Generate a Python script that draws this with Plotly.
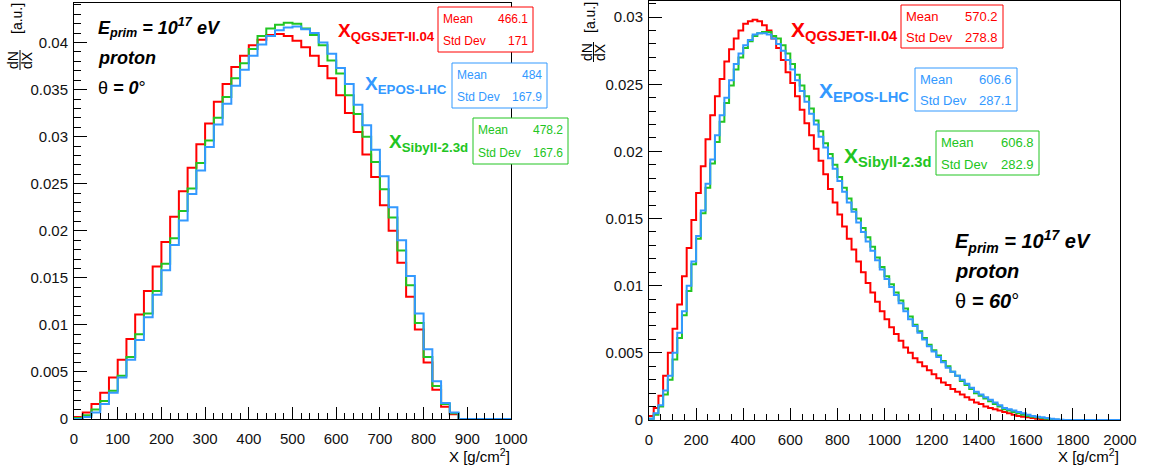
import numpy as np
import plotly.graph_objects as go

W, H = 1154, 466

# ---------------- data ----------------
models = ["QGSJET-II.04", "EPOS-LHC", "Sibyll-2.3d"]
bin_width = 20

left_qgsjet = [0.0002, 0.0007, 0.0016, 0.0028, 0.0044, 0.0063, 0.0085, 0.0111, 0.0136, 0.0162,
               0.0188, 0.0215, 0.0242, 0.0267, 0.0292, 0.0314, 0.0337, 0.0356, 0.0374, 0.0386,
               0.0397, 0.0403, 0.0408, 0.0409, 0.0407, 0.0402, 0.0395, 0.0386, 0.0375, 0.0362,
               0.0344, 0.0325, 0.0305, 0.0281, 0.0257, 0.0227, 0.0200, 0.0166, 0.0130, 0.0095,
               0.0060, 0.0031, 0.0013, 0.0005, 0, 0, 0, 0, 0, 0]
left_epos = [0.0000, 0.0002, 0.0007, 0.0016, 0.0028, 0.0044, 0.0063, 0.0084, 0.0108, 0.0132,
             0.0158, 0.0185, 0.0211, 0.0239, 0.0264, 0.0289, 0.0313, 0.0335, 0.0354, 0.0371,
             0.0386, 0.0398, 0.0407, 0.0413, 0.0416, 0.0417, 0.0414, 0.0410, 0.0400, 0.0388,
             0.0373, 0.0356, 0.0334, 0.0312, 0.0286, 0.0258, 0.0225, 0.0190, 0.0152, 0.0112,
             0.0074, 0.0040, 0.0017, 0.0007, 0, 0, 0, 0, 0, 0]
left_sibyll = [0.0001, 0.0004, 0.0010, 0.0019, 0.0030, 0.0046, 0.0066, 0.0090, 0.0112, 0.0136,
               0.0165, 0.0192, 0.0221, 0.0245, 0.0272, 0.0296, 0.0320, 0.0342, 0.0362, 0.0378,
               0.0393, 0.0407, 0.0415, 0.0419, 0.0421, 0.0420, 0.0415, 0.0408, 0.0397, 0.0381,
               0.0367, 0.0344, 0.0324, 0.0300, 0.0273, 0.0244, 0.0214, 0.0179, 0.0142, 0.0102,
               0.0066, 0.0035, 0.0016, 0.0006, 0, 0, 0, 0, 0, 0]

right_qgsjet = [0.0003, 0.0009, 0.0018, 0.0033, 0.0050, 0.0068, 0.0086, 0.0107, 0.0128, 0.0149,
                0.0169, 0.0189, 0.0209, 0.0227, 0.0241, 0.0254, 0.0267, 0.0276, 0.0284, 0.0290,
                0.0295, 0.0297, 0.0298, 0.0297, 0.0294, 0.0290, 0.0284, 0.0277, 0.0268, 0.0259,
                0.0251, 0.0241, 0.0231, 0.0221, 0.0212, 0.0202, 0.0193, 0.0183, 0.0172, 0.0162,
                0.0153, 0.0144, 0.0135, 0.0127, 0.0118, 0.0110, 0.0102, 0.0095, 0.0088, 0.0081,
                0.0075, 0.0069, 0.0064, 0.0059, 0.0054, 0.0050, 0.0046, 0.0043, 0.0040, 0.0037,
                0.0034, 0.0031, 0.0028, 0.0026, 0.0023, 0.0021, 0.0019, 0.0017, 0.0015, 0.0013,
                0.0012, 0.0010, 0.0009, 0.0008, 0.0007, 0.0006, 0.0005, 0.0004, 0.0003, 0.00025,
                0.0002, 0.00015, 0.0001, 0.00008, 0.00005, 0.00002, 0, 0, 0, 0,
                0, 0, 0, 0, 0, 0, 0, 0, 0, 0]
right_epos = [0.0001, 0.0005, 0.0011, 0.0022, 0.0033, 0.0050, 0.0065, 0.0081, 0.0100, 0.0118,
              0.0137, 0.0156, 0.0176, 0.0194, 0.0212, 0.0227, 0.0240, 0.0253, 0.0265, 0.0273,
              0.0279, 0.0283, 0.0287, 0.0288, 0.0288, 0.0287, 0.0284, 0.0280, 0.0275, 0.0268,
              0.0261, 0.0253, 0.0245, 0.0237, 0.0228, 0.0220, 0.0211, 0.0203, 0.0195, 0.0187,
              0.0178, 0.0170, 0.0162, 0.0155, 0.0147, 0.0140, 0.0133, 0.0126, 0.0119, 0.0112,
              0.0105, 0.0099, 0.0093, 0.0087, 0.0081, 0.0075, 0.0070, 0.0065, 0.0060, 0.0055,
              0.0051, 0.0047, 0.0043, 0.0039, 0.0036, 0.0033, 0.0030, 0.0027, 0.0024, 0.0021,
              0.0019, 0.0017, 0.0015, 0.0013, 0.0011, 0.0009, 0.0008, 0.0007, 0.0006, 0.0005,
              0.0004, 0.0003, 0.00025, 0.0002, 0.00015, 0.0001, 0.00005, 0.00002, 0, 0,
              0, 0, 0, 0, 0, 0, 0, 0, 0, 0]
right_sibyll = [0.0001, 0.0004, 0.0010, 0.0019, 0.0030, 0.0045, 0.0061, 0.0078, 0.0096, 0.0116,
                0.0135, 0.0154, 0.0173, 0.0191, 0.0207, 0.0222, 0.0236, 0.0249, 0.0261, 0.0270,
                0.0277, 0.0282, 0.0286, 0.0288, 0.0289, 0.0289, 0.0286, 0.0284, 0.0279, 0.0273,
                0.0265, 0.0257, 0.0249, 0.0241, 0.0232, 0.0223, 0.0215, 0.0206, 0.0198, 0.0190,
                0.0181, 0.0173, 0.0165, 0.0157, 0.0150, 0.0143, 0.0136, 0.0129, 0.0121, 0.0114,
                0.0107, 0.0101, 0.0095, 0.0089, 0.0083, 0.0077, 0.0071, 0.0066, 0.0061, 0.0056,
                0.0052, 0.0048, 0.0044, 0.0040, 0.0036, 0.0033, 0.0029, 0.0026, 0.0023, 0.0020,
                0.0018, 0.0016, 0.0014, 0.0012, 0.0010, 0.0008, 0.0007, 0.0006, 0.0005, 0.0004,
                0.0003, 0.00025, 0.0002, 0.00015, 0.0001, 0.00005, 0.00002, 0, 0, 0,
                0, 0, 0, 0, 0, 0, 0, 0, 0, 0]

left_means = [466.1, 484, 478.2]
left_stds = [171, 167.9, 167.6]
right_means = [570.2, 606.6, 606.8]
right_stds = [278.8, 287.1, 282.9]

# ---------------- styles ----------------
FONT = "Liberation Sans, Arial, sans-serif"
RED, BLUE, GREEN = "#ff0000", "#3399ff", "#22c522"
colors = [RED, BLUE, GREEN]


def px(x):
    return x / W


def py(y):
    return 1 - y / H


def step_xy(vals):
    edges = np.arange(len(vals) + 1) * bin_width
    return edges, list(vals) + [vals[-1]]


fig = go.Figure()
for vals, col in [(left_qgsjet, RED), (left_sibyll, GREEN), (left_epos, BLUE)]:
    ex, ey = step_xy(vals)
    fig.add_trace(go.Scatter(x=ex, y=ey, mode="lines", line=dict(color=col, width=2, shape="hv"),
                             xaxis="x", yaxis="y", showlegend=False))
for vals, col in [(right_qgsjet, RED), (right_sibyll, GREEN), (right_epos, BLUE)]:
    ex, ey = step_xy(vals)
    fig.add_trace(go.Scatter(x=ex, y=ey, mode="lines", line=dict(color=col, width=2, shape="hv"),
                             xaxis="x2", yaxis="y2", showlegend=False))

axis_common = dict(showline=True, linecolor="black", linewidth=1, mirror=True, showgrid=False,
                   zeroline=False, ticks="inside", tickcolor="black", tickwidth=1,
                   automargin=False,
                   tickfont=dict(family=FONT, size=15, color="#111"))

fig.update_layout(
    width=W, height=H, margin=dict(l=0, r=0, t=0, b=0, autoexpand=False),
    paper_bgcolor="white", plot_bgcolor="white", showlegend=False,
    xaxis=dict(domain=[px(74), px(511)], range=[0, 1000], dtick=100, tick0=0, ticklen=12,
               minor=dict(dtick=20, ticklen=6, ticks="inside", tickcolor="black"),
               anchor="y", ticklabelstandoff=6, **axis_common),
    yaxis=dict(domain=[py(419), py(3)], range=[0, 0.0442], dtick=0.005, tick0=0, ticklen=13,
               minor=dict(dtick=0.001, ticklen=7, ticks="inside", tickcolor="black"),
               anchor="x", ticklabelstandoff=2, **axis_common),
    xaxis2=dict(domain=[px(649), px(1120)], range=[0, 2000], dtick=200, tick0=0, ticklen=12,
                minor=dict(dtick=50, ticklen=6, ticks="inside", tickcolor="black"),
                anchor="y2", ticklabelstandoff=6, **axis_common),
    yaxis2=dict(domain=[py(420), py(1)], range=[0, 0.0312], dtick=0.005, tick0=0, ticklen=13,
                minor=dict(dtick=0.001, ticklen=7, ticks="inside", tickcolor="black"),
                anchor="x2", ticklabelstandoff=2, **axis_common),
)

anns = []
shapes = []


def text(x, y, t, size, color="black", xanchor="left", yanchor="middle", angle=0, family=FONT):
    anns.append(dict(x=px(x), y=py(y), xref="paper", yref="paper", text=t, showarrow=False,
                     xanchor=xanchor, yanchor=yanchor, textangle=angle,
                     font=dict(family=family, size=size, color=color)))


# axis titles
text(512, 455, "X [g/cm<sup>2</sup>]", 15, xanchor="right")
text(1121, 455, "X [g/cm<sup>2</sup>]", 15, xanchor="right")

# y titles (rotated fraction)
for (xa, ya, xn, xd, yf) in [(17, 19, 13, 27, 60), (590, 18, 587, 600, 52)]:
    text(xa, ya, "[a.u.]", 14, xanchor="center", angle=-90)
    text(xn, yf, "dN", 14, xanchor="center", angle=-90)
    text(xd, yf, "dX", 14, xanchor="center", angle=-90)
    xm = (xn + xd) / 2
    shapes.append(dict(type="line", xref="paper", yref="paper", x0=px(xm), x1=px(xm),
                       y0=py(yf - 10), y1=py(yf + 10), line=dict(color="black", width=1)))

# model labels
left_label_pos = [(336, 32), (363, 85), (387, 143)]
right_label_pos = [(789, 31), (817, 92), (842, 157)]
for i, m in enumerate(models):
    x, y = left_label_pos[i]
    text(x, y, "<b>X<sub>%s</sub></b>" % m, 19, colors[i])
    x, y = right_label_pos[i]
    text(x, y, "<b>X<sub>%s</sub></b>" % m, 21, colors[i])

# stat boxes
left_boxes = [(438, 7, 533, 52), (452, 63, 547, 108), (473, 118, 568, 164)]
right_boxes = [(901, 5, 1003, 48), (915, 68, 1017, 111), (936, 131, 1039, 175)]
for boxes, means, stds, fs in [(left_boxes, left_means, left_stds, 12), (right_boxes, right_means, right_stds, 13)]:
    for i, (x0, y0, x1, y1) in enumerate(boxes):
        shapes.append(dict(type="rect", xref="paper", yref="paper", x0=px(x0), x1=px(x1),
                           y0=py(y1), y1=py(y0), line=dict(color=colors[i], width=1),
                           fillcolor="white", layer="above"))
        h = y1 - y0
        r1, r2 = y0 + 0.27 * h, y0 + 0.75 * h
        text(x0 + 3, r1, "Mean", fs, colors[i])
        text(x1 - 3, r1, "{:g}".format(means[i]), fs, colors[i], xanchor="right")
        text(x0 + 3, r2, "Std Dev", fs, colors[i])
        text(x1 - 3, r2, "{:g}".format(stds[i]), fs, colors[i], xanchor="right")

# energy / primary / angle text
for (x, y0, fs, ang) in [(96, 28, 18, "0"), (953, 241, 20, "60")]:
    text(x, y0, "<b><i>E<sub>prim</sub> = 10<sup>17</sup> eV</i></b>", fs)
    text(x, y0 + 30, "<b><i>proton</i></b>", fs)
    text(x, y0 + 60, "θ <b><i>= %s</i></b>°" % ang, fs)

fig.update_layout(annotations=anns, shapes=shapes)
fig.write_html("out.html",
               post_script="document.body.style.margin='0';document.body.style.padding='0';"
                           "document.body.style.overflow='hidden';")
